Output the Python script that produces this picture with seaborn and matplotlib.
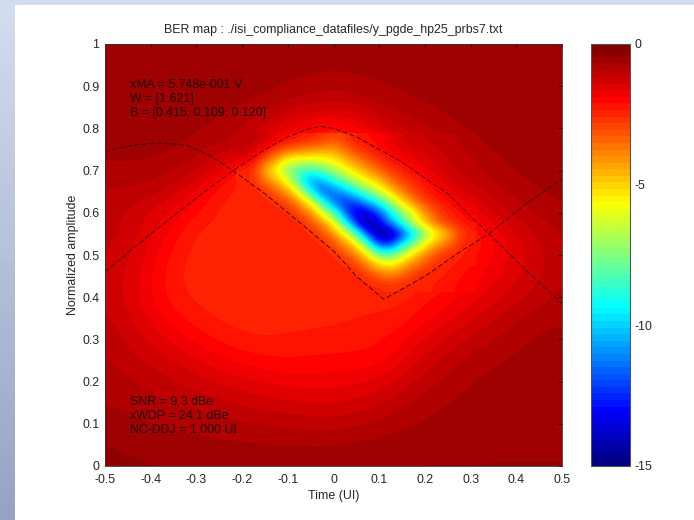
import numpy as np
from matplotlib import pyplot as plt
from matplotlib.colors import LinearSegmentedColormap
import seaborn as sns

# BER surface, rows from y=1 down to y=0, step 0.05
# (the eye itself sits in ber_eye, here it is only roughly filled)
ber_coarse = [
    [-.55, -.55, -.55, -.55, -.55, -.55, -.55, -.55, -.55, -.55, -.55, -.55, -.55, -.55, -.55, -.55, -.55, -.55, -.55, -.55, -.55],
    [-.55, -.55, -.55, -.55, -.55, -.55, -.55, -.55, -.58, -.62, -.65, -.62, -.60, -.58, -.55, -.55, -.55, -.55, -.55, -.55, -.55],
    [-.55, -.55, -.55, -.55, -.55, -.55, -.58, -.62, -.72, -.80, -.85, -.80, -.72, -.65, -.60, -.58, -.55, -.55, -.55, -.55, -.55],
    [-.55, -.55, -.55, -.55, -.58, -.62, -.72, -.85, -1.05, -1.2, -1.3, -1.2, -.95, -.82, -.72, -.65, -.58, -.55, -.55, -.55, -.55],
    [-.55, -.55, -.55, -.58, -.65, -.78, -.92, -1.25, -1.7, -2.0, -2.2, -2.0, -1.45, -1.2, -.95, -.78, -.65, -.58, -.55, -.55, -.55],
    [-.60, -.60, -.62, -.68, -.85, -1.0, -1.05, -1.9, -2.2, -2.4, -2.6, -2.4, -2.1, -1.55, -1.3, -1.1, -.85, -.68, -.60, -.55, -.55],
    [-.80, -.78, -.80, -.90, -1.1, -1.6, -2.4, -2.6, -3.0, -3.0, -3.0, -3.0, -3.0, -2.4, -1.75, -1.3, -1.0, -.82, -.68, -.60, -.58],
    [-.95, -.98, -1.05, -1.3, -1.7, -2.3, -2.45, -2.6, -3.0, -3.0, -3.0, -3.0, -3.0, -3.0, -2.45, -1.75, -1.3, -1.05, -.85, -.70, -.62],
    [-1.05, -1.2, -1.45, -1.75, -2.1, -2.4, -2.45, -2.45, -2.45, -3.0, -3.0, -3.0, -3.0, -3.0, -3.0, -2.45, -1.8, -1.35, -1.1, -.90, -.75],
    [-1.05, -1.25, -1.55, -2.0, -2.4, -2.45, -2.45, -2.45, -2.45, -2.45, -3.0, -3.0, -3.0, -3.0, -3.0, -3.0, -2.45, -1.85, -1.4, -1.1, -.90],
    [-1.15, -1.35, -1.75, -2.2, -2.45, -2.45, -2.45, -2.45, -2.45, -2.45, -2.45, -3.0, -3.0, -3.0, -3.0, -2.6, -2.2, -1.9, -1.55, -1.25, -1.0],
    [-1.2, -1.45, -1.85, -2.3, -2.45, -2.45, -2.45, -2.45, -2.45, -2.45, -2.45, -2.45, -2.8, -2.8, -2.4, -2.25, -2.0, -1.75, -1.45, -1.2, -.95],
    [-1.2, -1.45, -1.85, -2.25, -2.4, -2.45, -2.45, -2.45, -2.45, -2.45, -2.45, -2.45, -2.45, -2.4, -2.2, -2.0, -1.75, -1.5, -1.25, -1.05, -.85],
    [-1.1, -1.35, -1.7, -2.0, -2.25, -2.4, -2.45, -2.45, -2.45, -2.4, -2.4, -2.35, -2.3, -2.25, -1.95, -1.7, -1.45, -1.2, -.95, -.80, -.75],
    [-1.0, -1.2, -1.45, -1.7, -1.95, -2.15, -2.3, -2.35, -2.3, -2.3, -2.25, -2.2, -2.15, -1.95, -1.6, -1.35, -1.1, -.95, -.75, -.65, -.60],
    [-.90, -1.05, -1.25, -1.4, -1.6, -1.8, -1.95, -2.05, -2.1, -2.05, -2.05, -2.05, -2.0, -1.7, -1.3, -1.1, -.85, -.75, -.65, -.60, -.55],
    [-.80, -.90, -1.0, -1.15, -1.3, -1.45, -1.55, -1.65, -1.75, -1.75, -1.75, -1.7, -1.55, -1.3, -1.05, -.85, -.70, -.62, -.58, -.55, -.55],
    [-.70, -.75, -.85, -.95, -1.0, -1.1, -1.2, -1.3, -1.35, -1.4, -1.45, -1.35, -1.2, -1.0, -.80, -.70, -.62, -.58, -.55, -.55, -.55],
    [-.60, -.65, -.70, -.75, -.80, -.85, -.90, -.95, -1.0, -1.05, -1.05, -.95, -.85, -.75, -.68, -.60, -.58, -.55, -.55, -.55, -.55],
    [-.45, -.50, -.55, -.60, -.60, -.65, -.65, -.70, -.70, -.70, -.70, -.65, -.62, -.58, -.55, -.55, -.55, -.52, -.52, -.52, -.52],
    [-.40, -.42, -.45, -.45, -.45, -.48, -.50, -.50, -.50, -.50, -.50, -.50, -.48, -.45, -.45, -.45, -.45, -.45, -.45, -.45, -.45],
]

# finer read of the eye, x -0.2..0.3 and y 0.775..0.425, step 0.025
ber_eye = [
    [-.95, -1.05, -1.25, -1.6, -2.0, -2.2, -2.4, -2.6, -3.0, -2.7, -2.3, -2.1, -2.0, -1.6, -1.4, -1.25, -1.15, -1.05, -1.0, -.90, -.85],
    [-1.05, -1.3, -1.9, -2.7, -3.2, -3.5, -3.8, -4.0, -4.2, -3.5, -2.8, -2.4, -2.1, -1.8, -1.55, -1.4, -1.3, -1.2, -1.1, -.95, -.85],
    [-1.5, -2.0, -3.2, -4.2, -5.6, -5.9, -6.0, -5.8, -5.4, -4.6, -3.8, -3.2, -2.6, -2.2, -1.95, -1.7, -1.5, -1.35, -1.2, -1.05, -.95],
    [-2.45, -2.6, -4.4, -5.8, -7.5, -8.2, -8.5, -8.0, -7.0, -6.0, -5.0, -4.2, -3.4, -2.8, -2.4, -2.0, -1.75, -1.5, -1.3, -1.15, -1.0],
    [-2.45, -2.5, -3.6, -4.6, -5.8, -8.5, -11., -10.5, -9.0, -7.8, -6.5, -5.6, -4.8, -3.6, -2.9, -2.5, -2.1, -1.75, -1.5, -1.3, -1.1],
    [-2.45, -2.45, -2.6, -3.4, -4.2, -6.0, -9.0, -12., -11.5, -10.5, -9.0, -7.5, -6.2, -5.0, -3.8, -3.0, -2.45, -2.1, -1.75, -1.5, -1.3],
    [-2.45, -2.45, -2.45, -2.6, -3.0, -4.2, -5.6, -8.5, -11.5, -12.5, -12., -10.5, -9.0, -7.0, -5.2, -3.9, -2.9, -2.45, -2.15, -1.8, -1.55],
    [-2.45, -2.45, -2.45, -2.45, -2.5, -3.0, -4.0, -5.8, -8.0, -11.5, -14., -13.5, -12., -9.5, -7.5, -5.8, -4.2, -3.0, -2.45, -2.15, -1.8],
    [-2.45, -2.45, -2.45, -2.45, -2.45, -2.45, -3.0, -3.9, -5.4, -8.5, -12.5, -15., -13.5, -11., -8.8, -6.5, -4.8, -3.6, -2.8, -2.4, -2.1],
    [-2.45, -2.45, -2.45, -2.45, -2.45, -2.45, -2.5, -3.0, -4.0, -5.5, -8.0, -12., -15., -15., -12.5, -10., -7.5, -5.8, -4.8, -3.0, -2.45],
    [-2.45, -2.45, -2.45, -2.45, -2.45, -2.45, -2.45, -2.5, -3.0, -4.0, -5.2, -8.0, -12., -12., -9.5, -7.5, -5.6, -4.3, -3.5, -2.7, -2.3],
    [-2.45, -2.45, -2.45, -2.45, -2.45, -2.45, -2.45, -2.45, -2.5, -3.0, -3.8, -5.2, -7.5, -8.0, -6.5, -5.0, -4.0, -3.0, -2.6, -2.4, -2.2],
    [-2.45, -2.45, -2.45, -2.45, -2.45, -2.45, -2.45, -2.45, -2.45, -2.5, -2.8, -3.8, -4.8, -5.4, -4.5, -3.7, -3.0, -2.6, -2.4, -2.25, -2.1],
    [-2.45, -2.45, -2.45, -2.45, -2.45, -2.45, -2.45, -2.45, -2.45, -2.45, -2.45, -2.7, -3.3, -3.6, -3.3, -2.7, -2.45, -2.4, -2.3, -2.15, -2.0],
    [-2.45, -2.45, -2.45, -2.45, -2.45, -2.45, -2.45, -2.45, -2.45, -2.45, -2.45, -2.45, -2.5, -2.6, -2.5, -2.45, -2.4, -2.3, -2.2, -2.05, -1.9],
]

# the two dashed contours
line_a_x = [-0.5, -0.4, -0.3, -0.22, -0.15, -0.1, -0.06, -0.03, 0.0, 0.05, 0.15, 0.25, 0.34, 0.42, 0.5]
line_a_y = [0.46, 0.55, 0.635, 0.70, 0.75, 0.78, 0.797, 0.805, 0.80, 0.78, 0.72, 0.645, 0.55, 0.465, 0.385]
line_b_x = [-0.5, -0.44, -0.38, -0.32, -0.27, -0.22, -0.15, -0.1, 0.0, 0.05, 0.11, 0.2, 0.28, 0.34, 0.42, 0.5]
line_b_y = [0.745, 0.76, 0.765, 0.76, 0.735, 0.70, 0.645, 0.60, 0.51, 0.45, 0.395, 0.45, 0.51, 0.55, 0.62, 0.68]

x_ticks = [-0.5, -0.4, -0.3, -0.2, -0.1, 0, 0.1, 0.2, 0.3, 0.4, 0.5]
x_labels = ['-0.5', '-0.4', '-0.3', '-0.2', '-0.1', '0', '0.1', '0.2', '0.3', '0.4', '0.5']
y_ticks = [0, 0.1, 0.2, 0.3, 0.4, 0.5, 0.6, 0.7, 0.8, 0.9, 1]
y_labels = ['0', '0.1', '0.2', '0.3', '0.4', '0.5', '0.6', '0.7', '0.8', '0.9', '1']
cbar_ticks = [0, -5, -10, -15]

title = 'BER map : ./isi_compliance_datafiles/y_pgde_hp25_prbs7.txt'
notes_top = ['xMA = 5.748e-001 V', 'W = [1.621]', 'B = [0.415, 0.109, 0.120]']
notes_bottom = ['SNR = 9.3 dBe', 'xWDP = 24.1 dBe', 'NC-DDJ = 1.000 UI']

sns.set_style('white')
plt.rcParams['font.family'] = ['Liberation Sans', 'DejaVu Sans']

FS = 8.9
W, H = 694, 520
fig = plt.figure(figsize=(W / 100, H / 100), dpi=100, facecolor='white')

# slide background behind the figure
band_cmap = LinearSegmentedColormap.from_list('band', ['#d3ddf0', '#96a3c3'])
left_band = fig.add_axes([0, 0, 15 / W, 1])
left_band.imshow(np.linspace(0, 1, 64).reshape(-1, 1), aspect='auto', cmap=band_cmap)
left_band.axis('off')
top_band = fig.add_axes([0, 1 - 5 / H, 1, 5 / H])
top_band.set_facecolor('#d0dcef')
top_band.set_xticks([])
top_band.set_yticks([])
sns.despine(ax=top_band, left=True, bottom=True)

# the matlab jet, not the matplotlib one
jet = LinearSegmentedColormap.from_list('matlab_jet', [(0, (0, 0, 0.5)), (0.125, (0, 0, 1)), (0.375, (0, 1, 1)),
                                                       (0.625, (1, 1, 0)), (0.875, (1, 0, 0)), (1, (0.5, 0, 0))], N=64)

ax = fig.add_axes([105 / W, (H - 466) / H, 457 / W, 422 / H])
mesh = ax.imshow(np.array(ber_coarse), extent=[-0.525, 0.525, -0.025, 1.025], aspect='auto',
                 cmap=jet, vmin=-15, vmax=0, interpolation='bicubic', interpolation_stage='data')
ax.imshow(np.array(ber_eye), extent=[-0.2125, 0.3125, 0.4125, 0.7875], aspect='auto',
          cmap=jet, vmin=-15, vmax=0, interpolation='bicubic', interpolation_stage='data')

sns.lineplot(x=line_a_x, y=line_a_y, color='#300000', lw=0.6, linestyle=(0, (6, 3)), ax=ax)
sns.lineplot(x=line_b_x, y=line_b_y, color='#300000', lw=0.6, linestyle=(0, (6, 3)), ax=ax)

ax.set_xlim(-0.5, 0.5)
ax.set_ylim(0, 1)
ax.set_xticks(x_ticks)
ax.set_xticklabels(x_labels)
ax.set_yticks(y_ticks)
ax.set_yticklabels(y_labels)
ax.tick_params(axis='x', direction='in', length=3, width=0.6, top=True, pad=6, labelsize=FS, color='k')
ax.tick_params(axis='y', direction='in', length=3, width=0.6, right=True, pad=4, labelsize=FS, color='k')
for s in ax.spines.values():
    s.set_linewidth(0.6)
    s.set_color('#333333')
ax.set_title(title, fontsize=FS, pad=8)
ax.set_xlabel('Time (UI)', fontsize=FS, labelpad=3)
ax.set_ylabel('Normalized amplitude', fontsize=FS, labelpad=2)

for txt, yy in zip(notes_top, [0.903, 0.869, 0.836]):
    ax.text(-0.445, yy, txt, fontsize=FS, va='center', color='#200000')
for txt, yy in zip(notes_bottom, [0.152, 0.118, 0.085]):
    ax.text(-0.445, yy, txt, fontsize=FS, va='center', color='#200000')

cax = fig.add_axes([591 / W, (H - 466) / H, 39 / W, 422 / H])
cbar = fig.colorbar(mesh, cax=cax, ticks=cbar_ticks)
cbar.ax.set_yticklabels([str(t) for t in cbar_ticks])
cbar.ax.tick_params(direction='in', length=3, width=0.6, labelsize=FS, pad=3, color='k')
cbar.outline.set_linewidth(0.8)
cbar.outline.set_edgecolor('#555555')

fig.savefig('out.png', dpi=100)
